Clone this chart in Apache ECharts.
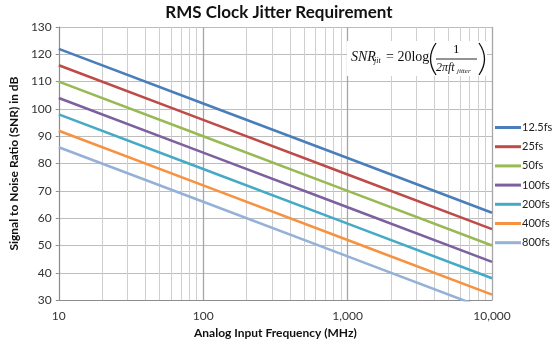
<!DOCTYPE html>
<html>
<head>
<meta charset="utf-8">
<script src="https://cdn.jsdelivr.net/npm/echarts@6/dist/echarts.min.js"></script>
<style>
  html, body { margin: 0; padding: 0; background: #fff; }
  #chart { width: 558px; height: 344px; }
</style>
</head>
<body>
<div id="chart"></div>
<script>
// Frequency points (MHz) and SNR (dB) per RMS jitter value
const freqs = [10, 100, 1000, 10000];
const jitterNames = ['12.5fs', '25fs', '50fs', '100fs', '200fs', '400fs', '800fs'];
const snr12_5fs = [122, 102, 82, 62];
const snr25fs   = [116, 96, 76, 56];
const snr50fs   = [110, 90, 70, 50];
const snr100fs  = [104, 84, 64, 44];
const snr200fs  = [98, 78, 58, 38];
const snr400fs  = [92, 72, 52, 32];
const snr800fs  = [86, 66, 46, 26];
const seriesValues = [snr12_5fs, snr25fs, snr50fs, snr100fs, snr200fs, snr400fs, snr800fs];
const colors = ['#4A7EBB', '#BE4B48', '#98B954', '#7D60A0', '#46AAC5', '#F69240', '#95B1D8'];

// Minor vertical grid positions on the log frequency axis
const minorGrid = [20, 30, 40, 50, 60, 70, 80, 90,
                   200, 300, 400, 500, 600, 700, 800, 900,
                   2000, 3000, 4000, 5000, 6000, 7000, 8000, 9000];

const chart = echarts.init(document.getElementById('chart'), null, { renderer: 'canvas' });

const lineSeries = jitterNames.map((name, i) => ({
  name: name,
  type: 'line',
  data: freqs.map((f, k) => [f, seriesValues[i][k]]),
  showSymbol: false,
  symbol: 'none',
  clip: true,
  z: 5,
  lineStyle: { width: 2.6, color: colors[i] },
  itemStyle: { color: colors[i] }
}));

const gridSeries = {
  name: 'minor-grid',
  type: 'line',
  data: [[10, 30]],
  showSymbol: false,
  symbol: 'none',
  silent: true,
  lineStyle: { opacity: 0 },
  z: 1,
  markLine: {
    silent: true,
    symbol: 'none',
    label: { show: false },
    animation: false,
    lineStyle: { color: '#cfcfcf', width: 1, type: 'solid' },
    data: minorGrid.map(v => ({ xAxis: v }))
  }
};

// Formula text pieces (serif, like an equation editor)
function ftext(x, y, text, size, italic) {
  return {
    type: 'text', x: x, y: y, z: 101,
    style: {
      text: text, fontSize: size, fontFamily: 'Liberation Serif',
      fontStyle: italic ? 'italic' : 'normal', fill: '#111',
      verticalAlign: 'middle', align: 'left'
    }
  };
}

chart.setOption({
  animation: false,
  backgroundColor: '#ffffff',
  title: {
    text: 'RMS Clock Jitter Requirement',
    left: 'center',
    top: -1,
    textStyle: { fontFamily: 'Lato', fontWeight: 'bold', fontSize: 17, color: '#111' }
  },
  legend: {
    orient: 'vertical',
    left: 495,
    top: 122,
    padding: 0,
    data: jitterNames,
    icon: 'rect',
    itemWidth: 26,
    itemHeight: 3,
    itemGap: 8.2,
    textStyle: { fontFamily: 'Lato', fontSize: 11, color: '#222', padding: [0, 0, 0, -4] }
  },
  grid: { left: 57, right: 66, top: 27, bottom: 34 },
  xAxis: {
    type: 'log',
    logBase: 10,
    min: 10,
    max: 10000,
    name: 'Analog Input Frequency (MHz)',
    nameLocation: 'middle',
    nameGap: 23,
    nameTextStyle: { fontFamily: 'Lato', fontWeight: 'bold', fontSize: 12, color: '#111' },
    axisLine: { lineStyle: { color: '#8c8c8c' } },
    axisTick: { show: false },
    axisLabel: {
      fontFamily: 'Lato', fontSize: 12, color: '#333', margin: 10,
      formatter: v => Number(v).toLocaleString('en-US')
    },
    splitLine: { show: true, lineStyle: { color: '#a6a6a6', width: 1.3 } }
  },
  yAxis: {
    type: 'value',
    min: 30,
    max: 130,
    interval: 10,
    name: 'Signal to Noise Ratio (SNR) in dB',
    nameLocation: 'middle',
    nameGap: 37,
    nameTextStyle: { fontFamily: 'Lato', fontWeight: 'bold', fontSize: 12, color: '#111' },
    axisLine: { show: true, lineStyle: { color: '#8c8c8c' } },
    axisTick: { show: true, length: 3, lineStyle: { color: '#8c8c8c' } },
    axisLabel: { fontFamily: 'Lato', fontSize: 12, color: '#333', margin: 7 },
    splitLine: { show: true, lineStyle: { color: '#bdbdbd', width: 1 } }
  },
  series: [gridSeries].concat(lineSeries),
  graphic: [
    { type: 'rect', z: 100, shape: { x: 347, y: 41, width: 140, height: 35 }, style: { fill: '#ffffff' } },
    ftext(351, 57, 'SNR', 14, true),
    ftext(374, 61, 'jit', 8, true),
    ftext(386, 57, '= 20log', 14, false),
    { type: 'bezierCurve', z: 101, shape: { x1: 436, y1: 43, x2: 436, y2: 75, cpx1: 425, cpy1: 59 },
      style: { stroke: '#111', lineWidth: 1.3, fill: null } },
    ftext(453, 50, '1', 13, false),
    { type: 'line', z: 101, shape: { x1: 436, y1: 59, x2: 477, y2: 59 }, style: { stroke: '#111', lineWidth: 0.9 } },
    ftext(436, 68, '2πft', 12, true),
    ftext(457, 71, 'jitter', 7, true),
    { type: 'bezierCurve', z: 101, shape: { x1: 479, y1: 43, x2: 479, y2: 75, cpx1: 490, cpy1: 59 },
      style: { stroke: '#111', lineWidth: 1.3, fill: null } }
  ]
});
</script>
</body>
</html>
